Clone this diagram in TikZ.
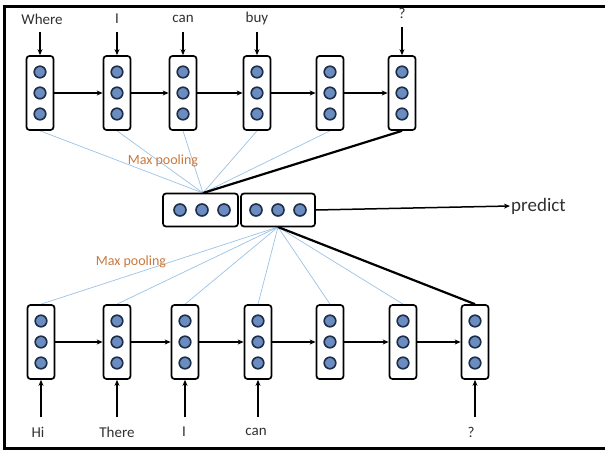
\documentclass[tikz,border=0pt]{standalone}
\usepackage{fontspec}
\setmainfont{Carlito}
\usetikzlibrary{arrows.meta,backgrounds}

\definecolor{dotfill}{HTML}{6A8CC0}
\definecolor{dotline}{HTML}{1E2E48}
\definecolor{poolline}{HTML}{9CC2E5}
\definecolor{poolcol}{HTML}{C8783C}
\definecolor{ink}{HTML}{303030}

\tikzset{
  cell/.style={draw, line width=1.7pt, rounded corners=3pt, fill=white,
    minimum width=27pt, minimum height=74pt, inner sep=0pt},
  pooled/.style={draw, line width=1.7pt, rounded corners=3pt, fill=white,
    minimum width=74pt, minimum height=33pt, inner sep=0pt},
  dot/.style={draw=dotline, line width=1.6pt, fill=dotfill},
  word/.style={text=ink, font=\fontsize{15}{17}\selectfont, inner sep=1pt},
  link/.style={line width=1.5pt, -{Stealth[length=6pt,width=5pt]}},
  thin/.style={poolline, line width=0.7pt},
  strong/.style={black, line width=2.2pt},
  pooltext/.style={poolcol, font=\fontsize{14}{16}\selectfont}
}

\begin{document}
\begin{tikzpicture}[x=1pt,y=-1pt]
\useasboundingbox (0,0) rectangle (605,450);

% frame
\draw[line width=2.4pt] (607,6.5) -- (4.5,6.5) -- (4.5,448.5) -- (607,448.5);

% merge points of the two pooling fans
\coordinate (ptop) at (203,193);
\coordinate (pbot) at (278,227);

% top sequence
\foreach \i/\x in {1/40,2/117,3/183,4/257,5/330,6/402}{
  \node[cell] (t\i) at (\x,93) {};
  \foreach \d in {-21,0,21}{ \draw[dot] (\x,93+\d) circle (5.8pt); }
}
% bottom sequence
\foreach \i/\x in {1/41,2/117,3/185,4/258,5/330,6/403,7/475}{
  \node[cell] (b\i) at (\x,342) {};
  \foreach \d in {-21,0,21}{ \draw[dot] (\x,342+\d) circle (5.8pt); }
}

% pooled vectors
\node[pooled, minimum width=75pt] (pl) at (200.5,210) {};
\node[pooled] (pr) at (278,210) {};
\foreach \x in {180,202,224,256,278,300}{ \draw[dot] (\x,210) circle (6pt); }

% pooling fans, kept behind the boxes
\begin{pgfonlayer}{background}
\foreach \i in {1,...,5}{ \draw[thin] (t\i.south) -- (ptop); }
\draw[strong] (t6.south) -- (ptop);
\foreach \i in {1,...,6}{ \draw[thin] (b\i.north) -- (pbot); }
\draw[strong] (b7.north) -- (pbot);
\end{pgfonlayer}

\node[pooltext] (mp1) at (163,161) {Max pooling};
\node[pooltext] (mp2) at (131,262) {Max pooling};

% recurrent links
\foreach \a/\b in {1/2,2/3,3/4,4/5,5/6}{ \draw[link] (t\a) -- (t\b); }
\foreach \a/\b in {1/2,2/3,3/4,4/5,5/6,6/7}{ \draw[link] (b\a) -- (b\b); }

% top inputs
\node[word] (wt1) at (42,19) {Where};
\node[word] (wt2) at (117,19) {I};
\node[word] (wt3) at (183,19) {can};
\node[word] (wt4) at (257,19) {buy};
\node[word] (wt6) at (402,13) {?};
\foreach \i/\x in {1/40,2/117,3/183,4/257}{
  \coordinate (st\i) at (\x,32);
  \draw[link] (st\i) -- (t\i.north);
}
\coordinate (st6) at (402,27);
\draw[link] (st6) -- (t6.north);

% bottom inputs
\node[word] (wb1) at (38,432) {Hi};
\node[word] (wb2) at (117,432) {There};
\node[word] (wb3) at (184,432) {I};
\node[word] (wb4) at (256,432) {can};
\node[word] (wb7) at (471,432) {?};
\foreach \i/\x in {1/41,2/117,3/185,4/258,7/475}{
  \coordinate (sb\i) at (\x,417);
  \draw[link] (sb\i) -- (b\i.south);
}

% output
\node[text=ink, font=\fontsize{19}{21}\selectfont, anchor=west, inner sep=1pt] (out) at (510,206) {predict};
\draw[link] (pr.east) -- (out.west);
\end{tikzpicture}
\end{document}
